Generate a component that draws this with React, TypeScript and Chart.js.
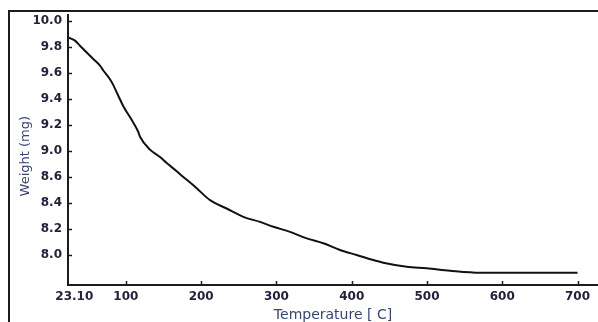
import { useEffect, useRef } from 'react';
import { Chart, registerables } from 'chart.js';

Chart.register(...registerables);

// Temperature (°C) readings along the TGA curve
const temperatures = [
  24.4, 32.4, 39.0, 56.7, 65.6, 70.0, 78.9, 83.3, 89.9, 96.6,
  109.9, 116.5, 118.8, 132.0, 145.3, 154.2, 167.5, 171.9, 189.6, 194.1,
  211.8, 233.9, 256.0, 278.2, 295.9, 318.0, 340.2, 362.3, 384.5, 406.6,
  428.7, 442.0, 473.1, 499.7, 530.6, 570.5, 700.0,
];
// Weight (mg) readings matching the temperatures above
const weights = [
  9.855, 9.830, 9.787, 9.674, 9.617, 9.575, 9.500, 9.450, 9.360, 9.270,
  9.130, 9.050, 9.010, 8.900, 8.837, 8.785, 8.715, 8.690, 8.596, 8.570,
  8.468, 8.397, 8.326, 8.283, 8.241, 8.198, 8.142, 8.100, 8.043, 8.000,
  7.957, 7.934, 7.900, 7.887, 7.866, 7.849, 7.849,
];

const xTickValues = [23.1, 100, 200, 300, 400, 500, 600, 700];
const xTickLabels = ['23.10', '100', '200', '300', '400', '500', '600', '700'];
const yTickValues = [10.0, 9.778, 9.556, 9.333, 9.111, 8.889, 8.667, 8.444, 8.222, 8.0];
const yTickLabels = ['10.0', '9.8', '9.6', '9.4', '9.2', '9.0', '8.6', '8.4', '8.2', '8.0'];
const xTitle = 'Temperature [ C]';
const yTitle = 'Weight (mg)';

const tickColor = '#22223a';
const titleColor = '#3a4670';
const tickFont = { family: 'DejaVu Sans', size: 12, weight: 'bold' as const };

const decor = {
  id: 'decor',
  beforeDraw(chart: any) {
    const ctx = chart.ctx;
    ctx.save();
    ctx.fillStyle = '#1c1c1c';
    ctx.fillRect(8, 10, 590, 2);
    ctx.fillRect(8, 10, 2, 312);
    ctx.restore();
  },
  afterDraw(chart: any) {
    const ctx = chart.ctx;
    const { left, bottom } = chart.chartArea;
    const xs = chart.scales.x;
    const ys = chart.scales.y;
    ctx.save();
    ctx.strokeStyle = '#1c1c1c';
    ctx.lineWidth = 1.5;
    ctx.beginPath();
    ys.ticks.forEach((t: any) => {
      const py = Math.round(ys.getPixelForValue(t.value)) + 0.5;
      ctx.moveTo(left, py);
      ctx.lineTo(left + 4, py);
    });
    xs.ticks.forEach((t: any, i: number) => {
      if (i === 0) return;
      const px = Math.round(xs.getPixelForValue(t.value)) + 0.5;
      ctx.moveTo(px, bottom);
      ctx.lineTo(px, bottom - 4);
    });
    ctx.stroke();
    ctx.restore();
  },
};

export default function App() {
  const ref = useRef<HTMLCanvasElement>(null);
  useEffect(() => {
    const chart = new Chart(ref.current as HTMLCanvasElement, {
      type: 'line',
      data: {
        datasets: [
          {
            data: temperatures.map((t, i) => ({ x: t, y: weights[i] })),
            borderColor: '#111111',
            borderWidth: 2,
            pointRadius: 0,
            fill: false,
            cubicInterpolationMode: 'monotone',
          },
        ],
      },
      options: {
        responsive: false,
        animation: false,
        devicePixelRatio: 1,
        layout: { padding: { top: 15, left: 0, right: 0, bottom: 0 } },
        plugins: { legend: { display: false }, tooltip: { enabled: false } },
        scales: {
          x: {
            type: 'linear',
            min: 23.1,
            max: 727.2,
            afterBuildTicks: (s: any) => {
              s.ticks = xTickValues.map((v) => ({ value: v }));
            },
            afterFit: (s: any) => {
              s.height = 37;
              s.paddingLeft = 0;
              s.paddingRight = 0;
            },
            grid: { display: false, drawTicks: false },
            border: { display: true, color: '#1c1c1c', width: 2 },
            ticks: {
              autoSkip: false,
              maxRotation: 0,
              minRotation: 0,
              padding: 5,
              color: tickColor,
              font: tickFont,
              callback: (_v: any, i: number) => (i === 0 ? '   ' + xTickLabels[0] : xTickLabels[i]),
            },
            title: {
              display: true,
              text: xTitle,
              color: titleColor,
              font: { family: 'DejaVu Sans', size: 14, lineHeight: 1 },
              padding: 0,
            },
          },
          y: {
            type: 'linear',
            min: 7.744,
            max: 10.049,
            afterBuildTicks: (s: any) => {
              s.ticks = yTickValues.map((v) => ({ value: v }));
            },
            afterFit: (s: any) => {
              s.width = 68;
              s.paddingTop = 0;
              s.paddingBottom = 0;
            },
            grid: { display: false, drawTicks: false },
            border: { display: true, color: '#1c1c1c', width: 2 },
            ticks: {
              autoSkip: false,
              padding: 6,
              color: tickColor,
              font: tickFont,
              callback: (_v: any, i: number) => yTickLabels[i],
            },
            title: {
              display: true,
              text: yTitle + '   ',
              color: titleColor,
              font: { family: 'DejaVu Sans', size: 13, lineHeight: 1.2 },
              padding: { top: 18, bottom: 0 },
            },
          },
        },
      },
      plugins: [decor],
    });
    return () => chart.destroy();
  }, []);
  return (
    <canvas
      ref={ref}
      width={598}
      height={322}
      style={{ position: 'fixed', left: 0, top: 0, width: 598, height: 322 }}
    />
  );
}
